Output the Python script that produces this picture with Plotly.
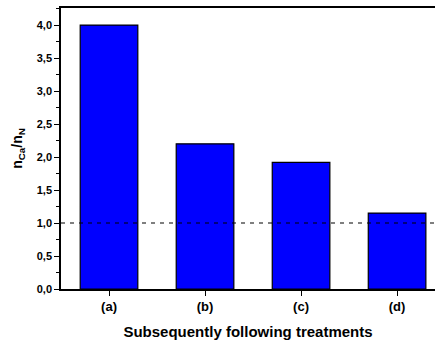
import plotly.graph_objects as go

# Ratio n_Ca / n_N after each subsequent treatment
categories = ["(a)", "(b)", "(c)", "(d)"]
ratios = [4.0, 2.2, 1.92, 1.15]
y_ticks = [0, 0.5, 1.0, 1.5, 2.0, 2.5, 3.0, 3.5, 4.0]
reference_level = 1.0
x_span = [-0.5, 3.395]

font_family = "Liberation Sans, Arial, sans-serif"

fig = go.Figure()
fig.add_trace(go.Bar(
    x=list(range(len(categories))),
    y=ratios,
    width=0.6,
    marker=dict(color="#0000FF", line=dict(color="black", width=1.2)),
    showlegend=False,
))

# Horizontal dashed reference at ratio = 1, drawn over the bars
fig.add_trace(go.Scatter(
    x=x_span,
    y=[reference_level, reference_level],
    mode="lines",
    line=dict(color="black", width=1.2, dash="4px,5px"),
    hoverinfo="skip",
    showlegend=False,
))

fig.update_layout(
    width=435, height=343,
    margin=dict(l=61, r=0, t=8, b=54),
    paper_bgcolor="white", plot_bgcolor="white",
    separators=",.",
    font=dict(family=font_family, color="black"),
    bargap=0.4,
)

fig.update_xaxes(
    range=x_span,
    tickmode="array",
    tickvals=list(range(len(categories))),
    ticktext=categories,
    tickfont=dict(size=13, weight="bold"),
    ticks="outside", ticklen=5, tickwidth=1, tickcolor="black",
    showline=True, linecolor="black", linewidth=1.5,
    mirror=True,
    showgrid=False, zeroline=False,
    title=dict(text="Subsequently following treatments",
               font=dict(size=15, weight="bold"), standoff=13),
)

fig.update_yaxes(
    range=[0, 4.258],
    tickmode="array",
    tickvals=y_ticks,
    tickformat=".1f",
    tickfont=dict(size=11, weight="bold"),
    ticks="outside", ticklen=5, tickwidth=1, tickcolor="black",
    minor=dict(dtick=0.25, ticks="outside", ticklen=3, tickwidth=1, tickcolor="black"),
    showline=True, linecolor="black", linewidth=1.5,
    mirror=False,
    showgrid=False, zeroline=False,
    title=dict(text="n<sub>Ca</sub>/n<sub>N</sub>",
               font=dict(size=14, weight="bold"), standoff=11),
)

fig.write_html("out.html")
